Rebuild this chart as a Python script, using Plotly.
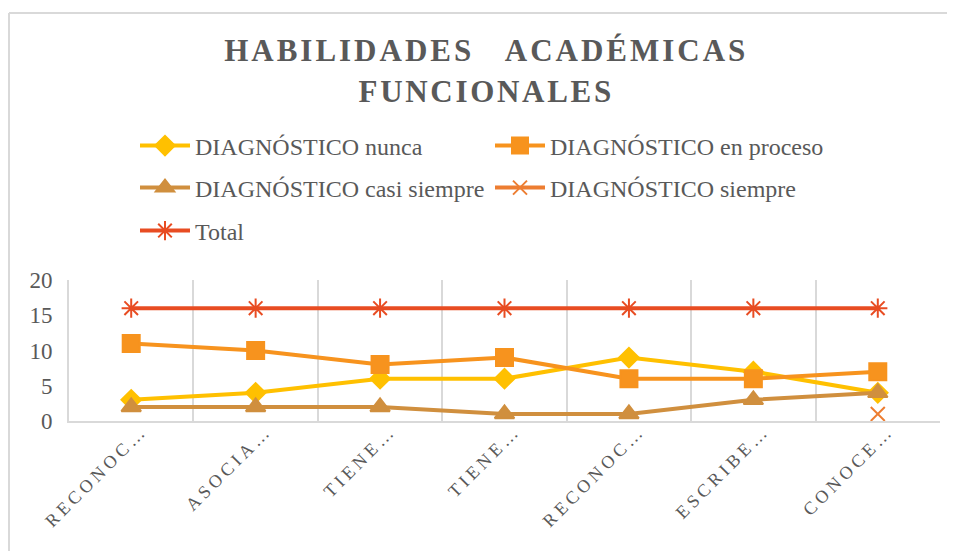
import plotly.graph_objects as go

categories = ["RECONOC…", "ASOCIA…", "TIENE…", "TIENE…", "RECONOC…", "ESCRIBE…", "CONOCE…"]
nunca = [3, 4, 6, 6, 9, 7, 4]
en_proceso = [11, 10, 8, 9, 6, 6, 7]
casi_siempre = [2, 2, 2, 1, 1, 3, 4]
siempre = [None, None, None, None, None, None, 1]
total = [16, 16, 16, 16, 16, 16, 16]
y_ticks = [0, 5, 10, 15, 20]

x = list(range(len(categories)))
FONT = "Liberation Serif"
GRAY = "#595959"

fig = go.Figure()
series = [
    ("DIAGNÓSTICO nunca", nunca, "#FFC000", "diamond", 15, "legend"),
    ("DIAGNÓSTICO en proceso", en_proceso, "#F7931E", "square", 17, "legend"),
    ("DIAGNÓSTICO casi siempre", casi_siempre, "#D08F3E", "triangle-up", 17, "legend2"),
    ("DIAGNÓSTICO siempre", siempre, "#ED7D31", "x-thin-open", 14, "legend2"),
    ("Total", total, "#E84C22", "asterisk-open", 16, "legend3"),
]
for name, vals, col, sym, sz, lg in series:
    fig.add_trace(go.Scatter(
        x=x, y=vals, name=name, mode="lines+markers",
        line=dict(color=col, width=4),
        marker=dict(symbol=sym, size=sz, color=col, line=dict(color=col, width=2)),
        legend=lg,
    ))

# page body has an 8px margin: work in screen pixels, subtract offset
OFF = 8
W, H = 955 - OFF, 551 - OFF
L, R, T, B = 69 - OFF, 940 - OFF, 280 - OFF, 421 - OFF
pw, ph = R - L, B - T

def px(xs):
    return (xs - OFF - L) / pw

def py(ys):
    return (B - (ys - OFF)) / ph

legend_common = dict(
    orientation="h", xanchor="left", yanchor="middle",
    font=dict(family=FONT, size=24, color=GRAY),
    entrywidth=290, entrywidthmode="pixels", itemwidth=50,
    bgcolor="rgba(0,0,0,0)",
)

LX = px(135)
fig.update_layout(
    width=W, height=H,
    margin=dict(l=L, r=W - R, t=T, b=H - B, autoexpand=False),
    paper_bgcolor="white", plot_bgcolor="white",
    title=dict(
        text="<b><span style='letter-spacing:3px'>HABILIDADES   ACADÉMICAS</span><br>"
             "<span style='letter-spacing:2.7px'>FUNCIONALES</span></b>",
        x=0.505, xanchor="center", y=0.902, yanchor="top",
        font=dict(family=FONT, size=31, color=GRAY),
    ),
    legend=dict(x=LX, y=py(146), **legend_common),
    legend2=dict(x=LX, y=py(188), **legend_common),
    legend3=dict(x=LX, y=py(231), **legend_common),
    xaxis=dict(
        range=[-0.5, 6.5], tickmode="array", tickvals=x,
        ticktext=[f"<span style='letter-spacing:4px'>{c}</span>" for c in categories],
        tickangle=-45, showgrid=False, zeroline=False, automargin=False,
        showline=True, linecolor="#D9D9D9", linewidth=2,
        ticks="", ticklabelstandoff=-10, ticklabelshift=11,
        tickfont=dict(family=FONT, size=18, color=GRAY),
        minor=dict(tick0=-0.5, dtick=1, showgrid=True, gridcolor="#D9D9D9", gridwidth=2, ticks=""),
    ),
    yaxis=dict(
        range=[0, 20], tickmode="array", tickvals=y_ticks,
        showgrid=False, zeroline=False, automargin=False,
        showline=True, linecolor="#D9D9D9", linewidth=2,
        ticks="", ticklabelstandoff=10,
        tickfont=dict(family=FONT, size=23, color=GRAY),
    ),
    shapes=[
        dict(type="line", xref="paper", yref="paper", x0=px(9), x1=px(960), y0=py(13), y1=py(13),
             line=dict(color="#D9D9D9", width=2)),
        dict(type="line", xref="paper", yref="paper", x0=px(9), x1=px(9), y0=py(13), y1=py(560),
             line=dict(color="#D9D9D9", width=2)),
    ],
)

fig.write_html("out.html")
